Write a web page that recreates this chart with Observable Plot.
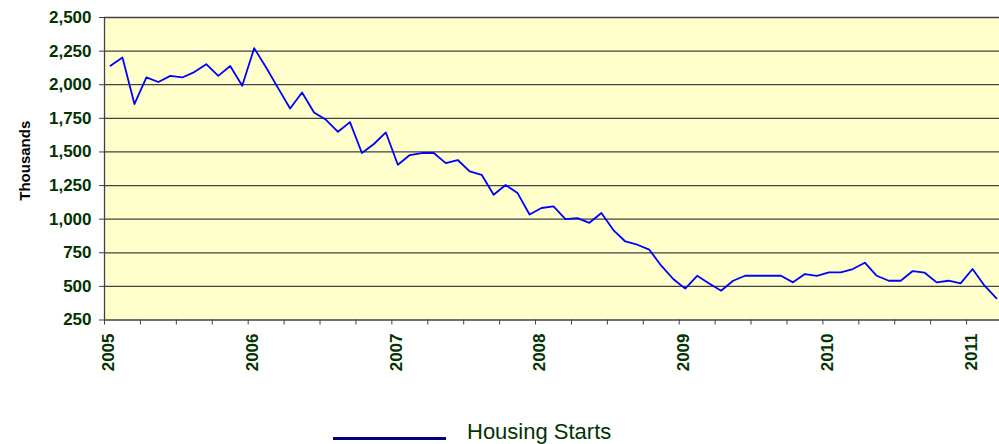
<!DOCTYPE html>
<html><head><meta charset="utf-8">
<script src="https://cdn.jsdelivr.net/npm/d3@7"></script>
<script src="https://cdn.jsdelivr.net/npm/@observablehq/plot@0.6"></script>
<style>
html,body{margin:0;padding:0;background:#fff;width:999px;height:444px;overflow:hidden;font-family:"Liberation Sans",Arial,sans-serif;}
body{position:relative;}
#swatch{position:absolute;left:333px;top:437px;width:113px;height:3px;background:#000080;}
#lbl{position:absolute;left:467px;top:421px;font-size:22px;line-height:22px;color:#003300;white-space:nowrap;}
</style></head><body>
<div id="chart"></div>
<div id="swatch"></div><div id="lbl">Housing Starts</div>
<script>
const months = [
"2005-01","2005-02","2005-03","2005-04","2005-05","2005-06","2005-07","2005-08","2005-09","2005-10","2005-11","2005-12",
"2006-01","2006-02","2006-03","2006-04","2006-05","2006-06","2006-07","2006-08","2006-09","2006-10","2006-11","2006-12",
"2007-01","2007-02","2007-03","2007-04","2007-05","2007-06","2007-07","2007-08","2007-09","2007-10","2007-11","2007-12",
"2008-01","2008-02","2008-03","2008-04","2008-05","2008-06","2008-07","2008-08","2008-09","2008-10","2008-11","2008-12",
"2009-01","2009-02","2009-03","2009-04","2009-05","2009-06","2009-07","2009-08","2009-09","2009-10","2009-11","2009-12",
"2010-01","2010-02","2010-03","2010-04","2010-05","2010-06","2010-07","2010-08","2010-09","2010-10","2010-11","2010-12",
"2011-01","2011-02","2011-03"];
const starts = [
2141,2203,1856,2054,2020,2066,2054,2094,2153,2066,2139,1992,
2272,2128,1975,1823,1942,1794,1739,1650,1722,1492,1559,1645,
1405,1477,1492,1492,1417,1440,1355,1330,1182,1254,1194,1035,
1083,1095,1001,1008,973,1046,919,834,810,773,654,555,
483,579,522,468,542,579,579,579,579,530,592,579,
604,604,629,676,579,542,542,614,602,530,542,522,
629,505,411];
const yearLabels = ["2005","2006","2007","2008","2009","2010","2011"];
const yTicks = [250,500,750,1000,1250,1500,1750,2000,2250,2500];
const seriesName = "Housing Starts";
const yTitle = "Thousands";

const monthIndex = s => (+s.slice(0,4) - 2005) * 12 + (+s.slice(5,7) - 1);
const data = months.map((m, i) => ({t: monthIndex(m) + 0.5, v: starts[i]}));
const quarterTicks = d3.range(0, 75, 3);
const green = "#003300";
const axisGray = "#404040";

const chart = Plot.plot({
  width: 999, height: 405,
  marginTop: 17, marginBottom: 85.5, marginLeft: 104, marginRight: 0,
  style: {fontFamily: "'Liberation Sans', Arial, sans-serif", background: "white"},
  x: {domain: [0, 74.75]},
  y: {domain: [250, 2500]},
  marks: [
    Plot.frame({fill: "#FFFFCC", stroke: null}),
    Plot.ruleY(yTicks, {stroke: axisGray, strokeWidth: 1.3}),
    Plot.ruleX([0], {stroke: axisGray, strokeWidth: 1.3}),
    Plot.axisY(yTicks, {tickSize: 5, tickPadding: 8, tickFormat: d3.format(","), fontSize: 17, fontWeight: "bold", fill: green, stroke: axisGray, label: null}),
    Plot.axisX(quarterTicks, {tickSize: 5, tickFormat: () => "", stroke: axisGray, label: null}),
    Plot.text(yearLabels, {x: d => (+d - 2005) * 12 + 0.5, frameAnchor: "bottom", dy: 13.5, dx: -1.5, rotate: -90, textAnchor: "end", lineAnchor: "middle", text: d => d, fontSize: 17, fontWeight: "bold", fill: green}),
    Plot.text([yTitle], {frameAnchor: "left", dx: -79, dy: -8, rotate: -90, textAnchor: "middle", lineAnchor: "middle", text: d => d, fontSize: 15, fontWeight: "bold", fill: "black"}),
    Plot.line(data, {x: "t", y: "v", stroke: "#0000FF", strokeWidth: 1.8})
  ]
});
document.getElementById("chart").appendChild(chart);
</script></body></html>
